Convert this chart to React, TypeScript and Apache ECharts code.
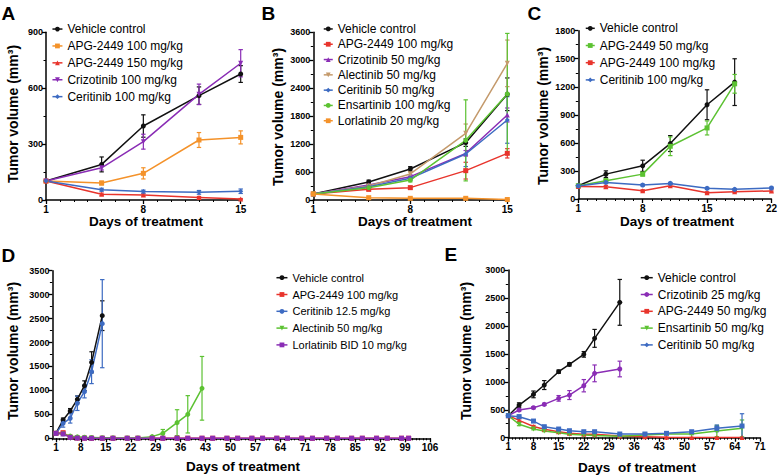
import React, { useEffect, useRef } from 'react';
import * as echarts from 'echarts';

const FONT = '"Liberation Sans", Arial, Helvetica, sans-serif';

const BLACK = '#111111';
const ORANGE = '#F4922A';
const RED = '#E8342C';
const PURPLE = '#8A2DB5';
const BLUE = '#3D6BC2';
const GREEN = '#5CC232';
const TAN = '#C49A6C';

// ---------- Panel A ----------
const daysA = [1, 5, 8, 12, 15];
const aVehicle = [102, 191, 397, 560, 676];
const aVehicleErr = [5, 40, 60, 47, 45];
const aApg100 = [102, 91, 143, 322, 336];
const aApg100Err = [5, 10, 30, 40, 35];
const aApg150 = [102, 31, 27, 14, 5];
const aApg150Err = [5, 6, 6, 5, 3];
const aCrizo100 = [102, 173, 313, 567, 734];
const aCrizo100Err = [5, 12, 40, 55, 73];
const aCeri100 = [102, 55, 45, 41, 47];
const aCeri100Err = [5, 8, 8, 10, 12];

// ---------- Panel B ----------
const daysB = [1, 5, 8, 12, 15];
const bVehicle = [129, 386, 666, 1231, 2270];
const bVehicleErr = [20, 40, 50, 80, 350];
const bApg100 = [129, 229, 265, 630, 1002];
const bApg100Err = [20, 30, 30, 180, 100];
const bCrizo50 = [129, 322, 501, 1002, 1825];
const bCrizo50Err = [20, 30, 40, 60, 150];
const bAlec50 = [129, 300, 560, 1431, 2934];
const bAlec50Err = [20, 30, 50, 200, 500];
const bCeri50 = [129, 286, 465, 988, 1718];
const bCeri50Err = [20, 30, 40, 270, 500];
const bEnsar100 = [129, 265, 429, 1280, 2276];
const bEnsar100Err = [20, 30, 40, 870, 1300];
const bLorl20 = [129, 50, 36, 36, 10];
const bLorl20Err = [20, 10, 10, 15, 5];

// ---------- Panel C ----------
const daysC1 = [1, 4, 8, 11, 15, 18];
const daysC2 = [1, 4, 8, 11, 15, 18, 22];
const cVehicle = [142, 266, 355, 593, 1008, 1250];
const cVehicleErr = [10, 35, 60, 85, 160, 250];
const cApg50 = [142, 195, 266, 564, 760, 1232];
const cApg50Err = [10, 20, 20, 100, 75, 100];
const cApg100 = [135, 131, 89, 142, 67, 78, 86];
const cApg100Err = [5, 15, 10, 12, 10, 10, 10];
const cCeri100 = [140, 177, 149, 167, 114, 103, 118];
const cCeri100Err = [5, 10, 10, 10, 10, 8, 8];

// ---------- Panel D ----------
const daysD1 = [1, 3, 5, 7, 9, 11, 14];
const daysD2 = [1, 3, 5, 7, 9, 11, 14, 17, 21, 24, 28, 31, 35, 38, 42];
const daysD3 = [1, 3, 5, 7, 9, 11, 14, 17, 21, 24, 28, 31, 35, 38, 42, 45, 49, 52, 56, 59, 63, 66, 70, 73, 77, 80, 84, 87, 91, 94, 98, 100];
const dVehicle = [104, 383, 571, 814, 1100, 1587, 2561];
const dVehicleErr = [20, 40, 50, 70, 100, 220, 310];
const dCeri125 = [104, 313, 418, 731, 974, 1392, 2394];
const dCeri125Err = [20, 80, 100, 150, 130, 250, 920];
const dAlec50 = [104, 95, 45, 30, 22, 18, 12, 10, 8, 8, 35, 104, 327, 501, 1044];
const dAlec50Err = [20, 15, 10, 8, 6, 5, 4, 4, 3, 3, 10, 80, 270, 390, 665];
const dApg100 = [104, 118, 25, 6, 3, 2, 1, 1, 1, 1, 1, 1, 1, 1, 1, 1, 1, 1, 1, 1, 1, 1, 1, 1, 1, 1, 1, 1, 1, 1, 1, 1];
const dApg100Err = [20, 15, 8, 3, 2, 1, 1, 1, 1, 1, 1, 1, 1, 1, 1, 1, 1, 1, 1, 1, 1, 1, 1, 1, 1, 1, 1, 1, 1, 1, 1, 1];
const dLorl10 = [104, 90, 20, 5, 2, 1, 1, 1, 1, 1, 1, 1, 1, 1, 1, 1, 1, 1, 1, 1, 1, 1, 1, 1, 1, 1, 1, 1, 1, 1, 1, 1];
const dLorl10Err = [20, 12, 6, 3, 2, 1, 1, 1, 1, 1, 1, 1, 1, 1, 1, 1, 1, 1, 1, 1, 1, 1, 1, 1, 1, 1, 1, 1, 1, 1, 1, 1];

// ---------- Panel E ----------
const daysE1 = [1, 4, 8, 11, 15, 18, 22, 25, 32];
const daysE2 = [1, 4, 8, 11, 15, 18, 22, 25, 32, 39, 45, 52, 59, 66];
const eVehicle = [394, 584, 775, 942, 1181, 1312, 1491, 1777, 2421];
const eVehicleErr = [30, 40, 60, 80, 30, 30, 50, 160, 410];
const eCrizo25 = [394, 495, 537, 596, 704, 763, 930, 1151, 1229];
const eCrizo25Err = [30, 20, 20, 20, 50, 80, 110, 150, 140];
const eApg50 = [394, 310, 200, 150, 107, 78, 60, 60, 30, 18, 6, 3, 2, 2];
const eApg50Err = [30, 25, 20, 15, 10, 8, 6, 6, 5, 4, 3, 2, 2, 2];
const eEnsar50 = [394, 240, 155, 120, 90, 60, 48, 40, 25, 48, 66, 66, 120, 167];
const eEnsar50Err = [30, 25, 15, 12, 10, 8, 6, 5, 5, 8, 10, 12, 100, 150];
const eCeri50 = [394, 376, 298, 197, 155, 125, 107, 107, 66, 66, 78, 107, 167, 209];
const eCeri50Err = [30, 30, 25, 15, 12, 10, 8, 8, 8, 10, 12, 15, 60, 220];

// tick labels
const ticksA = [1, 8, 15];
const ticksB = [1, 8, 15];
const ticksC = [1, 8, 15, 22];
const ticksD = [1, 8, 15, 22, 29, 36, 43, 50, 57, 64, 71, 78, 85, 92, 99, 106];
const ticksE = [1, 8, 15, 22, 29, 36, 43, 50, 57, 64, 71];

type Spec = {
  name: string;
  color: string;
  symbol: string;
  rotate?: number;
  days: number[];
  vals: number[];
  errs: number[];
};

const panels: {
  letter: string;
  grid: { left: number; top: number; width: number; height: number };
  xMin: number;
  xMax: number;
  ticks: number[];
  yMax: number;
  yInt: number;
  letterPos: [number, number];
  yTitlePos: [number, number];
  xTitle: string;
  xTitlePos: [number, number];
  legend: { left: number; top: number; gap: number; iw: number; fs: number };
  specs: Spec[];
}[] = [
  {
    letter: 'A',
    grid: { left: 46, top: 32.3, width: 194.7, height: 167.7 },
    xMin: 1, xMax: 15, ticks: ticksA, yMax: 900, yInt: 300,
    letterPos: [1.5, 13.5], yTitlePos: [13, 114], xTitle: 'Days of treatment', xTitlePos: [146, 221],
    legend: { left: 51.7, top: 20.6, gap: 16.9, iw: 10, fs: 12 },
    specs: [
      { name: 'Vehicle control', color: BLACK, symbol: 'circle', days: daysA, vals: aVehicle, errs: aVehicleErr },
      { name: 'APG-2449 100 mg/kg', color: ORANGE, symbol: 'rect', days: daysA, vals: aApg100, errs: aApg100Err },
      { name: 'APG-2449 150 mg/kg', color: RED, symbol: 'triangle', days: daysA, vals: aApg150, errs: aApg150Err },
      { name: 'Crizotinib 100 mg/kg', color: PURPLE, symbol: 'triangle', rotate: 180, days: daysA, vals: aCrizo100, errs: aCrizo100Err },
      { name: 'Ceritinib 100 mg/kg', color: BLUE, symbol: 'diamond', days: daysA, vals: aCeri100, errs: aCeri100Err },
    ],
  },
  {
    letter: 'B',
    grid: { left: 313.3, top: 32.3, width: 194, height: 167.7 },
    xMin: 1, xMax: 15, ticks: ticksB, yMax: 3600, yInt: 600,
    letterPos: [261.5, 13.5], yTitlePos: [277.7, 117], xTitle: 'Days of treatment', xTitlePos: [415, 221],
    legend: { left: 323, top: 21.3, gap: 15.3, iw: 9, fs: 12 },
    specs: [
      { name: 'Vehicle control', color: BLACK, symbol: 'circle', days: daysB, vals: bVehicle, errs: bVehicleErr },
      { name: 'APG-2449 100 mg/kg', color: RED, symbol: 'rect', days: daysB, vals: bApg100, errs: bApg100Err },
      { name: 'Crizotinib 50 mg/kg', color: PURPLE, symbol: 'triangle', days: daysB, vals: bCrizo50, errs: bCrizo50Err },
      { name: 'Alectinib 50 mg/kg', color: TAN, symbol: 'triangle', rotate: 180, days: daysB, vals: bAlec50, errs: bAlec50Err },
      { name: 'Ceritinib 50 mg/kg', color: BLUE, symbol: 'diamond', days: daysB, vals: bCeri50, errs: bCeri50Err },
      { name: 'Ensartinib 100 mg/kg', color: GREEN, symbol: 'circle', days: daysB, vals: bEnsar100, errs: bEnsar100Err },
      { name: 'Lorlatinib 20 mg/kg', color: ORANGE, symbol: 'rect', days: daysB, vals: bLorl20, errs: bLorl20Err },
    ],
  },
  {
    letter: 'C',
    grid: { left: 578.3, top: 30.7, width: 193.4, height: 168.3 },
    xMin: 1, xMax: 22, ticks: ticksC, yMax: 1800, yInt: 300,
    letterPos: [527.5, 13.5], yTitlePos: [543, 116], xTitle: 'Days of treatment', xTitlePos: [677, 221],
    legend: { left: 585, top: 19.7, gap: 17.2, iw: 9, fs: 12 },
    specs: [
      { name: 'Vehicle control', color: BLACK, symbol: 'circle', days: daysC1, vals: cVehicle, errs: cVehicleErr },
      { name: 'APG-2449 50 mg/kg', color: GREEN, symbol: 'rect', days: daysC1, vals: cApg50, errs: cApg50Err },
      { name: 'APG-2449 100 mg/kg', color: RED, symbol: 'triangle', days: daysC2, vals: cApg100, errs: cApg100Err },
      { name: 'Ceritinib 100 mg/kg', color: BLUE, symbol: 'circle', days: daysC2, vals: cCeri100, errs: cCeri100Err },
    ],
  },
  {
    letter: 'D',
    grid: { left: 52.4, top: 270.7, width: 377.6, height: 167.6 },
    xMin: 0, xMax: 106, ticks: ticksD, yMax: 3500, yInt: 500,
    letterPos: [1.5, 255], yTitlePos: [13, 351], xTitle: 'Days of treatment', xTitlePos: [243, 466],
    legend: { left: 275.7, top: 269.3, gap: 16.8, iw: 11, fs: 11 },
    specs: [
      { name: 'Vehicle control', color: BLACK, symbol: 'circle', days: daysD1, vals: dVehicle, errs: dVehicleErr },
      { name: 'APG-2449 100 mg/kg', color: RED, symbol: 'rect', days: daysD3, vals: dApg100, errs: dApg100Err },
      { name: 'Ceritinib 12.5 mg/kg', color: BLUE, symbol: 'circle', days: daysD1, vals: dCeri125, errs: dCeri125Err },
      { name: 'Alectinib 50 mg/kg', color: GREEN, symbol: 'circle', days: daysD2, vals: dAlec50, errs: dAlec50Err },
      { name: 'Lorlatinib BID 10 mg/kg', color: PURPLE, symbol: 'rect', days: daysD3, vals: dLorl10, errs: dLorl10Err },
    ],
  },
  {
    letter: 'E',
    grid: { left: 508.3, top: 270, width: 251.7, height: 167.7 },
    xMin: 1, xMax: 71, ticks: ticksE, yMax: 3000, yInt: 500,
    letterPos: [444.5, 254], yTitlePos: [466, 351], xTitle: 'Days  of treatment', xTitlePos: [637, 467],
    legend: { left: 640, top: 269.3, gap: 16.8, iw: 12, fs: 12 },
    specs: [
      { name: 'Vehicle control', color: BLACK, symbol: 'circle', days: daysE1, vals: eVehicle, errs: eVehicleErr },
      { name: 'Crizotinib 25 mg/kg', color: PURPLE, symbol: 'circle', days: daysE1, vals: eCrizo25, errs: eCrizo25Err },
      { name: 'APG-2449 50 mg/kg', color: RED, symbol: 'triangle', days: daysE2, vals: eApg50, errs: eApg50Err },
      { name: 'Ensartinib 50 mg/kg', color: GREEN, symbol: 'triangle', rotate: 180, days: daysE2, vals: eEnsar50, errs: eEnsar50Err },
      { name: 'Ceritinib 50 mg/kg', color: BLUE, symbol: 'rect', days: daysE2, vals: eCeri50, errs: eCeri50Err },
    ],
  },
];

function buildOption() {
  const grids: any[] = [];
  const xAxes: any[] = [];
  const yAxes: any[] = [];
  const series: any[] = [];
  const legends: any[] = [];
  const graphics: any[] = [];

  panels.forEach((p, i) => {
    grids.push({ ...p.grid, containLabel: false });
    xAxes.push({
      type: 'value', gridIndex: i, position: 'bottom', min: p.xMin, max: p.xMax,
      axisLine: { show: true, onZero: false, lineStyle: { color: '#000', width: 1.5 } },
      axisTick: { show: true, customValues: p.ticks, length: 4, lineStyle: { color: '#000', width: 1.3 } },
      axisLabel: {
        customValues: p.ticks, fontSize: 10, fontWeight: 'bold', color: '#000', fontFamily: FONT, margin: 4,
        formatter: (v: number) => String(v),
      },
      splitLine: { show: false },
    });
    xAxes.push({
      type: 'value', gridIndex: i, position: 'bottom', min: p.xMin, max: p.xMax, interval: 1,
      axisLine: { show: false, onZero: false },
      axisTick: { show: true, length: 2, lineStyle: { color: '#000', width: 1 } },
      axisLabel: { show: false },
      splitLine: { show: false },
    });
    yAxes.push({
      type: 'value', gridIndex: i, min: 0, max: p.yMax, interval: p.yInt,
      axisLine: { show: true, onZero: false, lineStyle: { color: '#000', width: 1.5 } },
      axisTick: { show: true, length: 4, lineStyle: { color: '#000', width: 1.3 } },
      minorTick: { show: true, splitNumber: 2, length: 2.5, lineStyle: { color: '#000', width: 1 } },
      axisLabel: {
        fontSize: 9, fontWeight: 'bold', color: '#000', fontFamily: FONT, margin: 3,
        formatter: (v: number) => String(v),
      },
      splitLine: { show: false },
    });

    p.specs.forEach((s) => {
      series.push({
        type: 'custom',
        xAxisIndex: i * 2,
        yAxisIndex: i,
        silent: true,
        z: 2,
        data: s.days.map((d, k) => [d, Math.max(0, s.vals[k] - s.errs[k]), s.vals[k] + s.errs[k]]),
        renderItem: (_params: any, api: any) => {
          const x = api.value(0);
          const lo = api.coord([x, api.value(1)]);
          const hi = api.coord([x, api.value(2)]);
          const c = 2.2;
          const st = { stroke: s.color, lineWidth: 1.2 };
          return {
            type: 'group',
            children: [
              { type: 'line', shape: { x1: lo[0], y1: lo[1], x2: hi[0], y2: hi[1] }, style: st },
              { type: 'line', shape: { x1: hi[0] - c, y1: hi[1], x2: hi[0] + c, y2: hi[1] }, style: st },
              { type: 'line', shape: { x1: lo[0] - c, y1: lo[1], x2: lo[0] + c, y2: lo[1] }, style: st },
            ],
          };
        },
      });
      series.push({
        type: 'line',
        name: s.name,
        xAxisIndex: i * 2,
        yAxisIndex: i,
        z: 3,
        data: s.days.map((d, k) => [d, s.vals[k]]),
        symbol: s.symbol,
        symbolRotate: s.rotate || 0,
        symbolSize: 5,
        showSymbol: true,
        lineStyle: { color: s.color, width: 1.5 },
        itemStyle: { color: s.color },
        emphasis: { disabled: true },
      });
    });

    legends.push({
      orient: 'vertical',
      left: p.legend.left,
      top: p.legend.top,
      padding: 0,
      itemGap: 0,
      itemWidth: p.legend.iw,
      itemHeight: 6,
      selectedMode: false,
      textStyle: { fontSize: p.legend.fs, lineHeight: p.legend.gap, color: '#000', fontFamily: FONT },
      data: p.specs.map((s) => ({
        name: s.name,
        itemStyle: { color: s.color },
        lineStyle: { color: s.color, width: 1.5 },
      })),
    });

    graphics.push({
      type: 'text', x: p.letterPos[0], y: p.letterPos[1],
      style: { text: p.letter, font: `bold 19px ${FONT}`, fill: '#000', align: 'left', verticalAlign: 'middle' },
    });
    graphics.push({
      type: 'text', x: p.yTitlePos[0], y: p.yTitlePos[1], rotation: Math.PI / 2,
      style: { text: 'Tumor volume (mm³)', font: `bold 14px ${FONT}`, fill: '#000', align: 'center', verticalAlign: 'middle' },
    });
    graphics.push({
      type: 'text', x: p.xTitlePos[0], y: p.xTitlePos[1],
      style: { text: p.xTitle, font: `bold 13.5px ${FONT}`, fill: '#000', align: 'center', verticalAlign: 'middle' },
    });
  });

  return {
    animation: false,
    backgroundColor: '#ffffff',
    grid: grids,
    xAxis: xAxes,
    yAxis: yAxes,
    legend: legends,
    series,
    graphic: graphics,
  };
}

export default function App() {
  const ref = useRef<HTMLDivElement>(null);
  useEffect(() => {
    document.body.style.margin = '0';
    if (!ref.current) return;
    const chart = echarts.init(ref.current, null, { renderer: 'svg' });
    chart.setOption(buildOption() as any);
    return () => chart.dispose();
  }, []);
  return <div ref={ref} style={{ width: 780, height: 475 }} />;
}
